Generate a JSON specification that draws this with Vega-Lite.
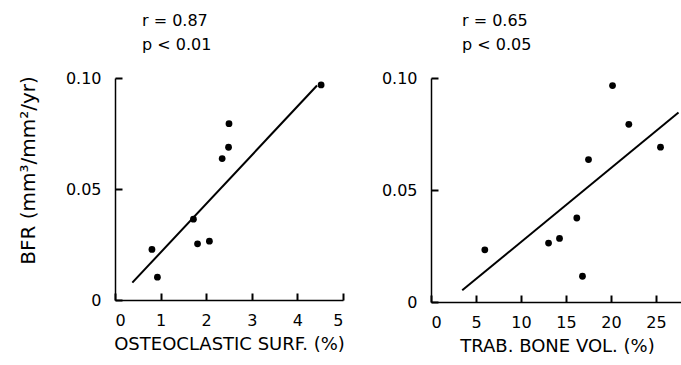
{
  "$schema": "https://vega.github.io/schema/vega-lite/v6.json",
  "padding": {"left": 17, "top": 13, "right": 0, "bottom": 0},
  "background": "white",
  "bounds": "flush",
  "config": {
    "font": "DejaVu Sans",
    "view": {"stroke": null},
    "concat": {"spacing": 88},
    "axis": {
      "grid": false,
      "ticks": true,
      "domainColor": "black",
      "domainWidth": 1.5,
      "tickColor": "black",
      "tickWidth": 2,
      "tickSize": -7,
      "tickOpacity": 1,
      "labelColor": "black",
      "labelFontSize": 16,
      "labelFont": "DejaVu Sans",
      "titleColor": "black",
      "titleFont": "DejaVu Sans",
      "titleFontWeight": "normal",
      "titleFontSize": 18
    },
    "axisX": {"labelPadding": 19},
    "axisY": {"labelPadding": 21},
    "title": {
      "font": "DejaVu Sans",
      "fontSize": 16,
      "fontWeight": "normal",
      "color": "black",
      "anchor": "start",
      "frame": "group",
      "lineHeight": 24,
      "offset": 17
    }
  },
  "datasets": {
    "osteo": [
      {"x": 0.81, "y": 0.0228},
      {"x": 0.93, "y": 0.0103},
      {"x": 1.72, "y": 0.0364},
      {"x": 1.81, "y": 0.0253},
      {"x": 2.07, "y": 0.0265},
      {"x": 2.35, "y": 0.0637},
      {"x": 2.49, "y": 0.0688},
      {"x": 2.5, "y": 0.0794},
      {"x": 4.52, "y": 0.0969}
    ],
    "osteoFit": [
      {"x": 0.38, "y": 0.0078},
      {"x": 4.43, "y": 0.0966}
    ],
    "trab": [
      {"x": 5.98, "y": 0.0233},
      {"x": 13.06, "y": 0.0263},
      {"x": 14.28, "y": 0.0284},
      {"x": 16.2, "y": 0.0375},
      {"x": 16.83, "y": 0.0115},
      {"x": 17.5, "y": 0.0636},
      {"x": 20.17, "y": 0.0966},
      {"x": 21.98, "y": 0.0793},
      {"x": 25.5, "y": 0.0691}
    ],
    "trabFit": [
      {"x": 3.47, "y": 0.0052},
      {"x": 27.5, "y": 0.0846}
    ]
  },
  "hconcat": [
    {
      "width": 228,
      "height": 222,
      "title": {"text": ["r = 0.87", "p < 0.01"], "dx": 27},
      "layer": [
        {
          "data": {"name": "osteoFit"},
          "mark": {"type": "line", "color": "black", "strokeWidth": 2},
          "encoding": {
            "x": {"field": "x", "type": "quantitative"},
            "y": {"field": "y", "type": "quantitative"}
          }
        },
        {
          "data": {"name": "osteo"},
          "mark": {"type": "circle", "color": "black", "opacity": 1, "size": 46},
          "encoding": {
            "x": {
              "field": "x", "type": "quantitative",
              "scale": {"domain": [0, 5], "nice": false},
              "axis": {"values": [0, 1, 2, 3, 4, 5], "title": "OSTEOCLASTIC SURF. (%)", "titlePadding": 7}
            },
            "y": {
              "field": "y", "type": "quantitative",
              "scale": {"domain": [0, 0.1], "nice": false},
              "axis": {
                "values": [0, 0.05, 0.1],
                "labelExpr": "datum.value == 0 ? '0' : format(datum.value, '.2f')",
                "title": "BFR (mm³/mm²/yr)",
                "titleFontSize": 20,
                "titleAngle": -90,
                "titleX": -87,
                "titleY": 92,
                "titleAlign": "center",
                "titleBaseline": "middle"
              }
            }
          }
        }
      ]
    },
    {
      "width": 252,
      "height": 224,
      "title": {"text": ["r = 0.65", "p < 0.05"], "dx": 31},
      "layer": [
        {
          "data": {"name": "trabFit"},
          "mark": {"type": "line", "color": "black", "strokeWidth": 2},
          "encoding": {
            "x": {"field": "x", "type": "quantitative"},
            "y": {"field": "y", "type": "quantitative"}
          }
        },
        {
          "data": {"name": "trab"},
          "mark": {"type": "circle", "color": "black", "opacity": 1, "size": 46},
          "encoding": {
            "x": {
              "field": "x", "type": "quantitative",
              "scale": {"domain": [0, 28], "nice": false},
              "axis": {"values": [0, 5, 10, 15, 20, 25], "title": "TRAB. BONE VOL. (%)", "titlePadding": 7}
            },
            "y": {
              "field": "y", "type": "quantitative",
              "scale": {"domain": [0, 0.1], "nice": false},
              "axis": {
                "values": [0, 0.05, 0.1],
                "labelExpr": "datum.value == 0 ? '0' : format(datum.value, '.2f')",
                "title": null
              }
            }
          }
        }
      ]
    }
  ],
  "resolve": {"scale": {"x": "independent", "y": "independent"}}
}
